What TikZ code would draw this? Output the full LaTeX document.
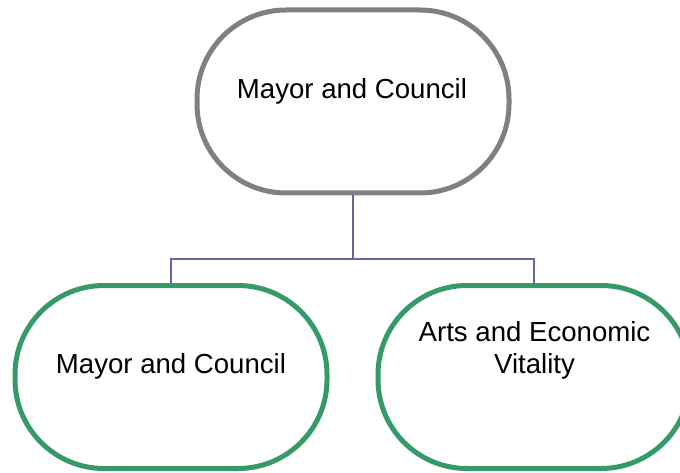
\documentclass[tikz,border=0pt]{standalone}
\usepackage{fontspec}
\setmainfont{Liberation Sans}
\definecolor{boxgray}{RGB}{128,128,128}
\definecolor{boxgreen}{RGB}{54,154,104}
\definecolor{connpurple}{RGB}{102,102,160}
\begin{document}
\begin{tikzpicture}[x=1pt,y=-1pt,
  stadium/.style={draw, line width=5pt, fill=white, rounded corners=89pt,
    minimum width=312pt, minimum height=183pt, inner sep=0pt},
  topbox/.style={stadium, draw=boxgray},
  childbox/.style={stadium, draw=boxgreen},
  lbl/.style={anchor=base, align=center, inner sep=0pt,
    font=\fontsize{27.6}{32}\selectfont},
  conn/.style={draw=connpurple, line width=1.6pt}]
\useasboundingbox (0,0) rectangle (680,473);
\node[topbox] (top) at (353,101.5) {};
\node[childbox] (left) at (171,377) {};
\node[childbox] (right) at (534,377) {};
\coordinate (bus) at (353,259);
\draw[conn] (top.south) -- (bus);
\draw[conn] (left.north) |- (bus) -| (right.north);
\node[lbl] (toptxt) at (352,99) {Mayor and Council};
\node[lbl] (lefttxt) at (171,373) {Mayor and Council};
\node[lbl] (righttxt) at (534.5,373) {Arts and Economic\\Vitality};
\end{tikzpicture}
\end{document}
